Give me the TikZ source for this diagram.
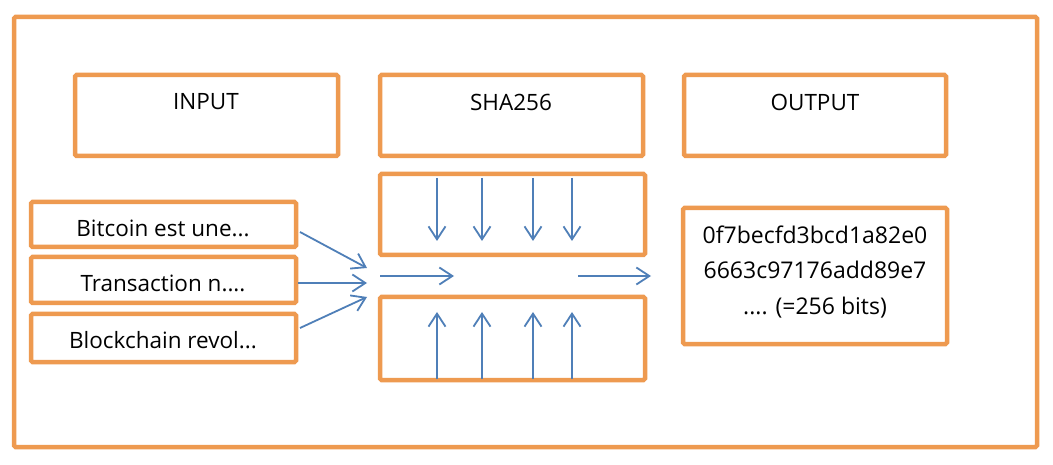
\documentclass[tikz,border=0pt]{standalone}
\usepackage{fontspec}
\setmainfont{Open Sans}
\usetikzlibrary{arrows.meta}
\definecolor{orng}{HTML}{EE9A50}
\definecolor{arblue}{HTML}{4F7FB8}
\begin{document}
\begin{tikzpicture}[x=1pt,y=-1pt,
  frame/.style={draw=orng,line width=4.5pt,rounded corners=1.5pt},
  arr/.style={draw=arblue,line width=1.8pt,-{Straight Barb[length=13pt,width=17pt,line width=1.8pt]}},
  lbl/.style={font=\fontsize{22.5}{26}\selectfont,inner sep=0pt},
  big/.style={font=\fontsize{23}{35.5}\selectfont,inner sep=0pt,align=center}]
\useasboundingbox (0,0) rectangle (1053,465);
\fill[white] (0,0) rectangle (1053,465);
\draw[frame] (14,17) rectangle (1037,447);
% top boxes
\draw[frame] (75,75) rectangle (338,156);
\draw[frame] (380,75) rectangle (643,156);
\draw[frame] (684,75) rectangle (946,156);
\node[lbl] (tin) at (206,102) {INPUT};
\node[lbl] (tsha) at (511,102) {SHA256};
\node[lbl] (tout) at (815,102) {OUTPUT};
% input boxes
\draw[frame] (31,202) rectangle (296,247);
\draw[frame] (31,257) rectangle (296,303);
\draw[frame] (31,314) rectangle (296,362);
\node[lbl] (i1) at (163,228) {Bitcoin est une...};
\node[lbl] (i2) at (163,283) {Transaction n....};
\node[lbl] (i3) at (163,340) {Blockchain revol...};
\coordinate (a1) at (300,232);
\coordinate (a2) at (298,283);
\coordinate (a3) at (300,328);
\coordinate (b1) at (367,268);
\coordinate (b2) at (367,283);
\coordinate (b3) at (367,297);
\draw[arr] (a1) -- (b1);
\draw[arr] (a2) -- (b2);
\draw[arr] (a3) -- (b3);
% sha inner boxes
\draw[frame] (380,174) rectangle (645,255);
\draw[frame] (380,297) rectangle (645,380);
\foreach \x [count=\i] in {437,482,533,572}{
  \coordinate (d\i s) at (\x,178);
  \coordinate (d\i e) at (\x,241);
  \coordinate (u\i s) at (\x,379);
  \coordinate (u\i e) at (\x,312);
  \draw[arr] (d\i s) -- (d\i e);
  \draw[arr] (u\i s) -- (u\i e);
}
\coordinate (m1s) at (380,276);
\coordinate (m1e) at (454,276);
\coordinate (m2s) at (578,276);
\coordinate (m2e) at (651,276);
\draw[arr] (m1s) -- (m1e);
\draw[arr] (m2s) -- (m2e);
% output box
\draw[frame] (683,208) rectangle (947,344);
\node[big] (hash) at (815,272) {0f7becfd3bcd1a82e0\\6663c97176add89e7\\.... (=256 bits)};
\end{tikzpicture}
\end{document}
